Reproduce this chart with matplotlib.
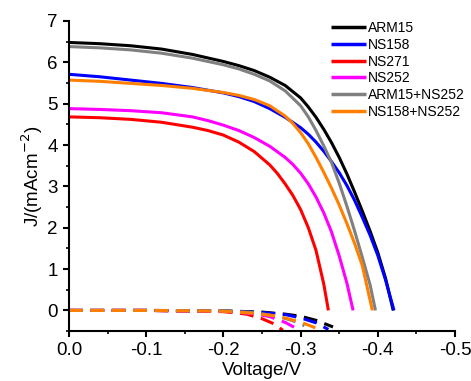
import matplotlib
matplotlib.use("Agg")
import matplotlib.pyplot as plt
from matplotlib.ticker import MultipleLocator, FormatStrFormatter

plt.rcParams['font.family'] = ['Liberation Sans', 'DejaVu Sans']
plt.rcParams['axes.unicode_minus'] = False

labels = ["ARM15", "NS158", "NS271", "NS252", "ARM15+NS252", "NS158+NS252"]
colors = ["#000000", "#0000FF", "#FF0000", "#FF00FF", "#808080", "#FF8000"]

# Illuminated J-V curves
v_arm15 = [0, -0.04, -0.08, -0.12, -0.16, -0.20, -0.22, -0.24, -0.26, -0.28, -0.30, -0.31,
           -0.32, -0.33, -0.34, -0.35, -0.36, -0.37, -0.38, -0.39, -0.40, -0.41, -0.42]
j_arm15 = [6.48, 6.45, 6.40, 6.32, 6.19, 6.02, 5.92, 5.80, 5.64, 5.44, 5.14, 4.92,
           4.67, 4.38, 4.06, 3.70, 3.30, 2.86, 2.40, 1.92, 1.40, 0.78, 0.0]
v_ns158 = [0, -0.04, -0.08, -0.12, -0.16, -0.20, -0.22, -0.24, -0.26, -0.28, -0.30, -0.31,
           -0.32, -0.33, -0.34, -0.35, -0.36, -0.37, -0.38, -0.39, -0.40, -0.41, -0.421]
j_ns158 = [5.71, 5.65, 5.57, 5.49, 5.39, 5.26, 5.17, 5.05, 4.88, 4.67, 4.42, 4.26,
           4.07, 3.85, 3.60, 3.33, 3.02, 2.66, 2.25, 1.82, 1.33, 0.74, 0.0]
v_ns271 = [0, -0.04, -0.08, -0.12, -0.16, -0.18, -0.20, -0.22, -0.24, -0.26, -0.27, -0.28,
           -0.29, -0.30, -0.31, -0.32, -0.33, -0.336]
j_ns271 = [4.68, 4.66, 4.62, 4.55, 4.43, 4.35, 4.24, 4.07, 3.84, 3.52, 3.31, 3.06,
           2.78, 2.44, 2.00, 1.45, 0.64, 0.0]
v_ns252 = [0, -0.04, -0.08, -0.12, -0.16, -0.18, -0.20, -0.22, -0.24, -0.26, -0.28, -0.29,
           -0.30, -0.31, -0.32, -0.33, -0.34, -0.35, -0.36, -0.368]
j_ns252 = [4.88, 4.86, 4.83, 4.78, 4.68, 4.59, 4.48, 4.35, 4.18, 3.97, 3.70, 3.53,
           3.32, 3.06, 2.74, 2.36, 1.90, 1.32, 0.66, 0.0]
v_arm_ns = [0, -0.04, -0.08, -0.12, -0.16, -0.20, -0.22, -0.24, -0.26, -0.28, -0.30, -0.31,
            -0.32, -0.33, -0.34, -0.35, -0.36, -0.37, -0.38, -0.39, -0.397]
j_arm_ns = [6.38, 6.35, 6.30, 6.22, 6.10, 5.94, 5.84, 5.71, 5.55, 5.31, 4.95, 4.68,
            4.35, 3.98, 3.58, 3.08, 2.52, 1.92, 1.28, 0.62, 0.0]
v_ns_ns = [0, -0.04, -0.08, -0.12, -0.16, -0.20, -0.22, -0.24, -0.26, -0.28, -0.29, -0.30,
           -0.31, -0.32, -0.33, -0.34, -0.35, -0.36, -0.37, -0.38, -0.393]
j_ns_ns = [5.57, 5.54, 5.49, 5.44, 5.37, 5.27, 5.20, 5.10, 4.95, 4.70, 4.52, 4.30,
           4.03, 3.70, 3.34, 2.96, 2.55, 2.10, 1.62, 1.08, 0.0]

# Dark J-V curves
vd_arm15 = [0, -0.10, -0.20, -0.25, -0.28, -0.30, -0.32, -0.342]
jd_arm15 = [0, 0, -0.01, -0.04, -0.09, -0.14, -0.24, -0.40]
vd_ns158 = [0, -0.10, -0.20, -0.25, -0.28, -0.30, -0.32, -0.336]
jd_ns158 = [0, 0, -0.02, -0.05, -0.10, -0.18, -0.30, -0.46]
vd_ns271 = [0, -0.10, -0.20, -0.23, -0.25, -0.265, -0.277]
jd_ns271 = [0, 0, -0.03, -0.09, -0.20, -0.32, -0.48]
vd_ns252 = [0, -0.10, -0.20, -0.24, -0.26, -0.28, -0.295]
jd_ns252 = [0, 0, -0.02, -0.08, -0.15, -0.29, -0.44]
vd_arm_ns = [0, -0.10, -0.20, -0.24, -0.27, -0.29, -0.305]
jd_arm_ns = [0, 0, -0.01, -0.05, -0.14, -0.25, -0.37]
vd_ns_ns = [0, -0.10, -0.20, -0.24, -0.27, -0.30, -0.319]
jd_ns_ns = [0, 0, -0.02, -0.07, -0.14, -0.28, -0.42]

light = [(v_arm15, j_arm15), (v_ns158, j_ns158), (v_ns271, j_ns271),
         (v_ns252, j_ns252), (v_arm_ns, j_arm_ns), (v_ns_ns, j_ns_ns)]
dark = [(vd_arm15, jd_arm15), (vd_ns158, jd_ns158), (vd_ns271, jd_ns271),
        (vd_ns252, jd_ns252), (vd_arm_ns, jd_arm_ns), (vd_ns_ns, jd_ns_ns)]

fig = plt.figure(figsize=(4.71, 3.81), dpi=100)
ax = fig.add_axes([0.1465, 0.131, 0.8195, 0.814])

for (v, j), c, lab in zip(light, colors, labels):
    ax.plot(v, j, color=c, lw=2.2, label=lab, solid_capstyle='butt', solid_joinstyle='round')
for (v, j), c in zip(dark, colors):
    ax.plot(v, j, color=c, lw=2.2, dashes=(4.5, 2.5))

ax.set_xlim(0, -0.5)
ax.set_ylim(-0.5, 7)
ax.xaxis.set_major_locator(MultipleLocator(0.1))
ax.xaxis.set_minor_locator(MultipleLocator(0.05))
ax.xaxis.set_major_formatter(FormatStrFormatter('%.1f'))
ax.yaxis.set_major_locator(MultipleLocator(1))
ax.yaxis.set_minor_locator(MultipleLocator(0.5))

for s in ['top', 'right']:
    ax.spines[s].set_visible(False)
for s in ['left', 'bottom']:
    ax.spines[s].set_linewidth(1.5)
ax.tick_params(which='major', direction='out', length=4, width=1.5, labelsize=13.5, pad=4)
ax.tick_params(which='minor', direction='out', length=2.5, width=1.2)

ax.set_xlabel("Voltage/V", fontsize=13.5, labelpad=2)
ax.set_ylabel("J/(mAcm$^{-2}$)", fontsize=13.5, labelpad=2)

leg = ax.legend(loc='upper left', bbox_to_anchor=(0.68, 1.0), frameon=False,
                fontsize=10, handlelength=2.5, handletextpad=0.15,
                labelspacing=0.2, borderpad=0, borderaxespad=0)
for line in leg.get_lines():
    line.set_linewidth(2.5)

fig.savefig("out.png", dpi=100)
